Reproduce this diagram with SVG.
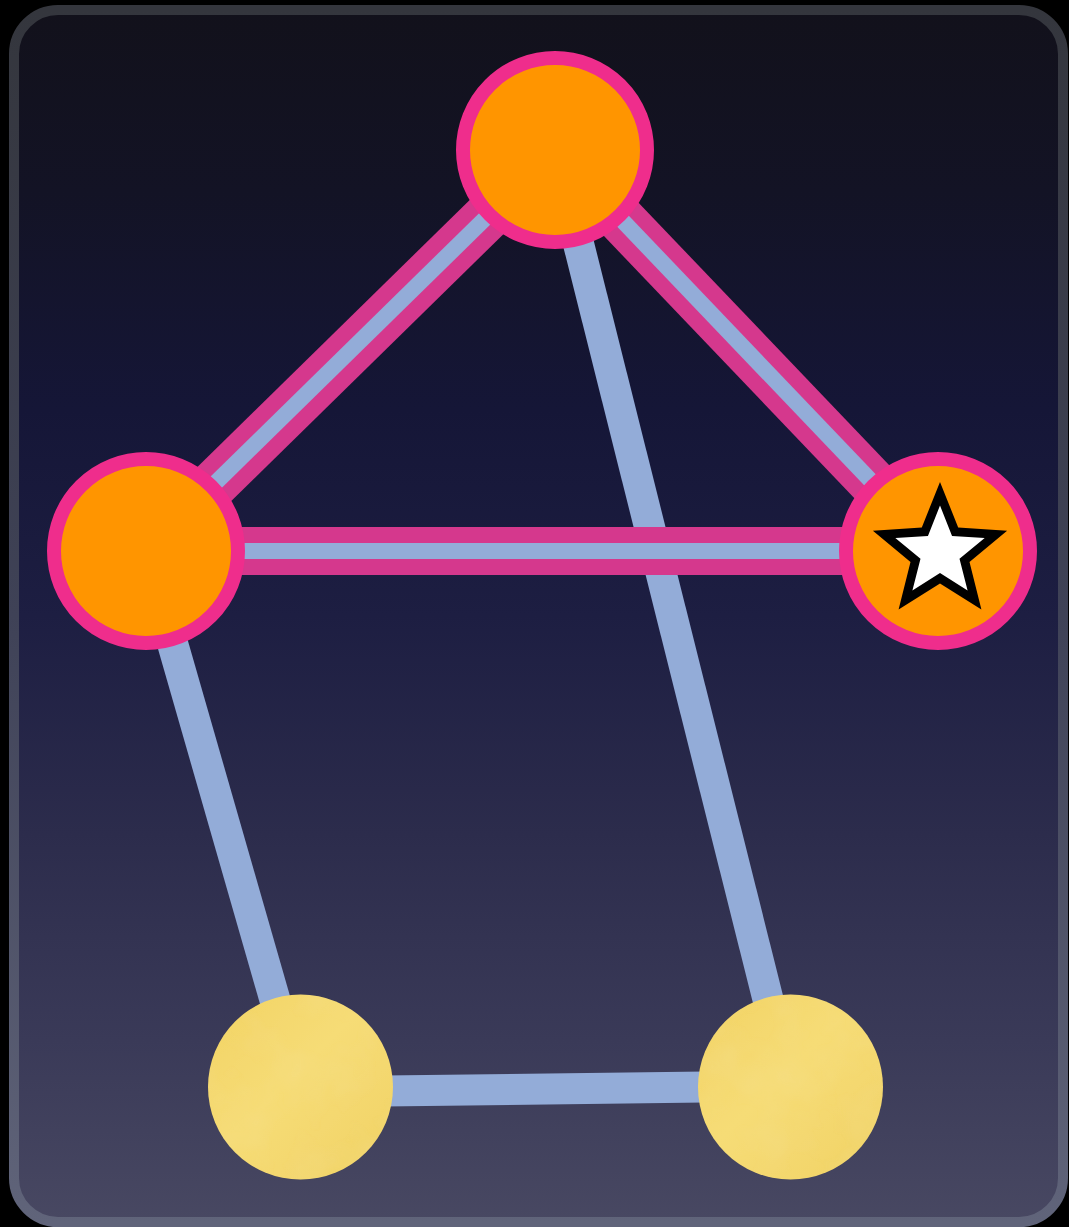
<svg xmlns="http://www.w3.org/2000/svg" width="1069" height="1227" viewBox="0 0 1069 1227">
  <defs>
    <linearGradient id="bg" x1="0" y1="0" x2="0" y2="1">
      <stop offset="0" stop-color="#12111b"/>
      <stop offset="0.15" stop-color="#131325"/>
      <stop offset="0.33" stop-color="#151637"/>
      <stop offset="0.5" stop-color="#1d1e42"/>
      <stop offset="0.68" stop-color="#2c2c4c"/>
      <stop offset="0.85" stop-color="#3a3a58"/>
      <stop offset="1" stop-color="#484862"/>
    </linearGradient>
    <linearGradient id="frame" x1="0" y1="0" x2="0" y2="1">
      <stop offset="0" stop-color="#34363d"/>
      <stop offset="0.5" stop-color="#3f4257"/>
      <stop offset="1" stop-color="#60647a"/>
    </linearGradient>
    <linearGradient id="sheen" x1="0" y1="0" x2="1" y2="1">
      <stop offset="0" stop-color="#f2d364"/>
      <stop offset="0.45" stop-color="#f6dc76"/>
      <stop offset="1" stop-color="#f1d265"/>
    </linearGradient>
    <filter id="paper" x="0" y="0" width="100%" height="100%">
      <feTurbulence type="fractalNoise" baseFrequency="0.02" numOctaves="3" seed="7" result="n"/>
      <feColorMatrix in="n" type="matrix" values="0 0 0 0 0.9  0 0 0 0 0.75  0 0 0 0 0.3  0 0 0 0.5 -0.2" result="t"/>
      <feComposite in="t" in2="SourceGraphic" operator="in" result="tc"/>
      <feMerge><feMergeNode in="SourceGraphic"/><feMergeNode in="tc"/></feMerge>
    </filter>
    <style>
      .edge { stroke: #93acd8; stroke-width: 31; fill: none; }
      .hl-outer { stroke: #d5388d; stroke-width: 48; fill: none; }
      .hl-inner { stroke: #93acd8; stroke-width: 16; fill: none; }
      .hot { fill: #ff9500; stroke: #ef2d8c; stroke-width: 14; }
      .cool { fill: url(#sheen); filter: url(#paper); }
    </style>
  </defs>
  <rect x="0" y="0" width="1069" height="1227" fill="#000"/>
  <rect x="14" y="10" width="1049" height="1212" rx="44" ry="44" fill="url(#bg)" stroke="url(#frame)" stroke-width="10"/>

  <g id="connectors">
    <line class="edge" x1="555" y1="150" x2="790" y2="1087"/>
    <line class="edge" x1="146" y1="551" x2="300" y2="1087"/>
    <line class="edge" x1="300" y1="1092" x2="790" y2="1086"/>
    <g id="highlighted">
      <line class="hl-outer" x1="555" y1="150" x2="146" y2="551"/>
      <line class="hl-outer" x1="555" y1="150" x2="938" y2="551"/>
      <line class="hl-outer" x1="146" y1="551" x2="938" y2="551"/>
      <line class="hl-inner" x1="555" y1="150" x2="146" y2="551"/>
      <line class="hl-inner" x1="555" y1="150" x2="938" y2="551"/>
      <line class="hl-inner" x1="146" y1="551" x2="938" y2="551"/>
    </g>
  </g>

  <g id="node-top"><circle class="hot" cx="555" cy="150" r="92"/></g>
  <g id="node-left"><circle class="hot" cx="146" cy="551" r="92"/></g>
  <g id="node-right">
    <circle class="hot" cx="938" cy="551" r="92"/>
    <polygon fill="#000" points="940,482 958.2,527.4 1007.1,530.7 969.5,562.1 981.4,609.5 940,583.5 898.6,609.5 910.5,562.1 872.9,530.7 921.8,527.4"/>
    <polygon fill="#fff" points="940,505.5 952.05,535.9 984.7,538 959.5,558.8 967.6,590.5 940,573 912.4,590.5 920.5,558.8 895.3,538 927.95,535.9"/>
  </g>
  <g id="node-bottom-left"><circle class="cool" cx="300.5" cy="1087" r="92.5"/></g>
  <g id="node-bottom-right"><circle class="cool" cx="790.5" cy="1087" r="92.5"/></g>
</svg>
